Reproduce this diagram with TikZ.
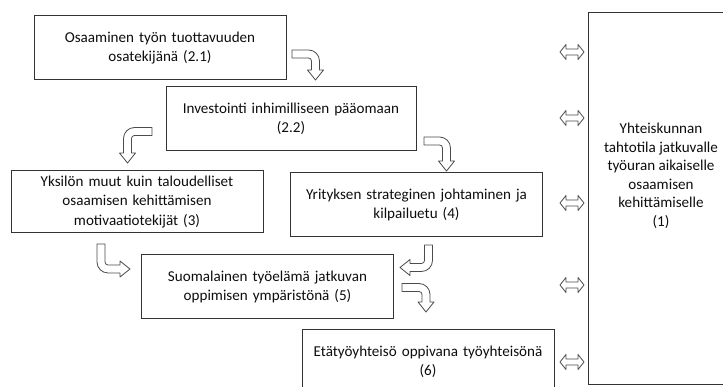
\documentclass[tikz,border=0pt]{standalone}
\usepackage{fontspec}
\setmainfont{Carlito}
\usepackage{tikz}

% hollow bent arrow: #1 placement, #2 start, #3 run to the bend, #4 drop to the tip
\newcommand{\bentarrow}[4]{%
\begin{scope}[shift={#2},#1]
\draw [arr] (0,4) -- ({#3-7},4)
	.. controls ({#3-0.93},4) and ({#3+4},-0.93) .. ({#3+4},-7)
	-- ({#3+4},{-#4+10}) -- ({#3+8},{-#4+10}) -- (#3,-#4)
	-- ({#3-8},{-#4+10}) -- ({#3-4},{-#4+10}) -- ({#3-4},-7)
	.. controls ({#3-4},-5.34) and ({#3-5.34},-4) .. ({#3-7},-4)
	-- (0,-4) -- cycle;
\end{scope}}

\begin{document}
\begin{tikzpicture}
[x=1pt,y=1pt,font=\fontsize{15.1}{19.5}\selectfont]
\tikzset{box/.style={rectangle,draw=black!80,line width=1pt,text=black!95,
		align=center,inner sep=4pt,text width=242pt,minimum width=252pt,minimum height=64pt},
	arr/.style={draw=black!70,fill=white,line width=0.8pt,line join=round},
	dbl/.pic={\draw [arr] (-12,0) -- (-6,7.5) -- (-6,3) -- (6,3) -- (6,7.5)
		-- (12,0) -- (6,-7.5) -- (6,-3) -- (-6,-3) -- (-6,-7.5) -- cycle;}}
\path [use as bounding box] (0,0) rectangle (723,387);
\clip (0,0) rectangle (723,387);

\node [box] (n21) at (160,339) {Osaaminen työn tuottavuuden\\osatekijänä (2.1)};
\node [box,minimum width=250pt] (n22) at (291,268) {Investointi inhimilliseen pääomaan\\(2.2)};
\node [box,minimum height=62pt] (n3) at (137,185) {Yksilön muut kuin taloudelliset\\osaamisen kehittämisen\\motivaatiotekijät (3)};
\node [box] (n4) at (416.5,182) {Yrityksen strateginen johtaminen ja\\kilpailuetu (4)};
\node [box] (n5) at (267.5,100) {Suomalainen työelämä jatkuvan\\oppimisen ympäristönä (5)};
\node [box] (n6) at (428,25) {Etätyöyhteisö oppivana työyhteisönä\\(6)};
\node [box,text width=139pt,minimum width=147pt,minimum height=372pt] (n1) at (661.5,188) {};
\node [align=center,text=black!95,font=\fontsize{15.1}{18.5}\selectfont] (n1t) at (661,211)
	{Yhteiskunnan\\tahtotila jatkuvalle\\työuran aikaiselle\\osaamisen\\kehittämiselle\\(1)};

\bentarrow{}{(292,333)}{23.5}{26}
\bentarrow{xscale=-1}{(152,255.5)}{24.5}{31.5}
\bentarrow{}{(424,246)}{22.5}{30}
\bentarrow{cm={0,-1,-1,0,(0,0)}}{(101,143)}{25}{29}
\bentarrow{rotate=-90}{(428.5,142)}{22.5}{28.5}
\bentarrow{}{(402,99.5)}{24}{24.5}

\foreach \y in {335,269,184,102,25}
	\pic at (572,\y) {dbl};

\end{tikzpicture}
\end{document}
